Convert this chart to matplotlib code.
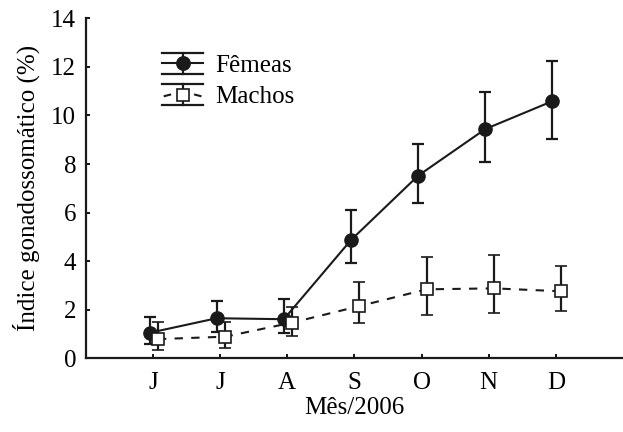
import numpy as np
import matplotlib
matplotlib.use("Agg")
import matplotlib.pyplot as plt
from matplotlib.lines import Line2D
from matplotlib.legend_handler import HandlerBase

plt.rcParams["font.family"] = ["Liberation Serif", "DejaVu Serif"]

# ── Data ──
months = ["J", "J", "A", "S", "O", "N", "D"]

femeas = [1.05, 1.65, 1.61, 4.87, 7.52, 9.44, 10.59]
femeas_sup = [1.70, 2.36, 2.45, 6.10, 8.82, 10.98, 12.23]
femeas_inf = [0.59, 1.10, 1.03, 3.91, 6.38, 8.07, 9.03]

machos = [0.79, 0.89, 1.47, 2.15, 2.84, 2.88, 2.76]
machos_sup = [1.51, 1.51, 2.12, 3.15, 4.16, 4.25, 3.81]
machos_inf = [0.34, 0.44, 0.93, 1.44, 1.77, 1.85, 1.95]


class HandlerWideCaps(HandlerBase):
    # legend entry: full-width caps, vertical bar, line and marker
    def __init__(self, ls, marker, mfc, ms):
        super().__init__()
        self.ls, self.marker, self.mfc, self.ms = ls, marker, mfc, ms

    def create_artists(self, legend, orig_handle, xdescent, ydescent,
                       width, height, fontsize, trans):
        x0, x1 = -xdescent, -xdescent + width
        yc = -ydescent + height / 2
        h = 7.6
        xc = (x0 + x1) / 2
        arts = []
        for yy in (yc - h, yc + h):
            arts.append(Line2D([x0, x1], [yy, yy], color="#1a1a1a", lw=1.6))
        arts.append(Line2D([xc, xc], [yc - h, yc + h], color="#1a1a1a", lw=1.6))
        if self.ls == "--":
            g = 9
            arts.append(Line2D([x0 + 2, xc - g], [yc - 1, yc], color="#1a1a1a", lw=1.5))
            arts.append(Line2D([xc + g, x1 - 2], [yc, yc - 1], color="#1a1a1a", lw=1.5))
        else:
            arts.append(Line2D([x0, x1], [yc, yc], color="#1a1a1a", lw=1.5))
        arts.append(Line2D([xc], [yc], marker=self.marker, markersize=self.ms,
                           markerfacecolor=self.mfc, markeredgecolor="#1a1a1a",
                           markeredgewidth=1.2, linestyle="none"))
        for a in arts:
            a.set_transform(trans)
        return arts


x = np.arange(1, len(months) + 1)

fig = plt.figure(figsize=(6.23, 4.32), dpi=100)
ax = fig.add_axes([0.1376, 0.1706, 0.8624, 0.787])

f = np.array(femeas)
m = np.array(machos)
ferr = [f - np.array(femeas_inf), np.array(femeas_sup) - f]
merr = [m - np.array(machos_inf), np.array(machos_sup) - m]

h1 = ax.errorbar(x - 0.05, f, yerr=ferr, color="#1a1a1a", lw=1.5,
                 marker="o", ms=9.5, mfc="#1a1a1a", mec="#1a1a1a",
                 elinewidth=1.6, capsize=4, capthick=1.6)
h2 = ax.errorbar(x + 0.075, m, yerr=merr, color="#1a1a1a", lw=1.5,
                 linestyle="--", dashes=(4, 4),
                 marker="s", ms=8, mfc="white", mec="#1a1a1a", mew=1.2,
                 elinewidth=1.6, capsize=4, capthick=1.6)

ax.set_xlim(0, 8)
ax.set_ylim(0, 14)
ax.set_xticks(x)
ax.set_xticklabels(months)
ax.set_yticks(np.arange(0, 15, 2))
ax.tick_params(direction="in", length=3, width=1.3, labelsize=18, pad=7)
ax.tick_params(axis="x", pad=10)
for s in ["top", "right"]:
    ax.spines[s].set_visible(False)
for s in ["left", "bottom"]:
    ax.spines[s].set_linewidth(1.6)
    ax.spines[s].set_color("#1a1a1a")

ax.set_xlabel("Mês/2006", fontsize=18, labelpad=2)
ax.set_ylabel("Índice gonadossomático (%)", fontsize=18, labelpad=8)

ax.legend([h1, h2], ["Fêmeas", "Machos"],
          handler_map={h1: HandlerWideCaps("-", "o", "#1a1a1a", 9.5),
                       h2: HandlerWideCaps("--", "s", "white", 8)},
          loc="upper left", bbox_to_anchor=(0.10, 0.96), frameon=False,
          fontsize=18, handlelength=1.65, handletextpad=0.5,
          labelspacing=0.36)

plt.savefig("out.png", dpi=100)
